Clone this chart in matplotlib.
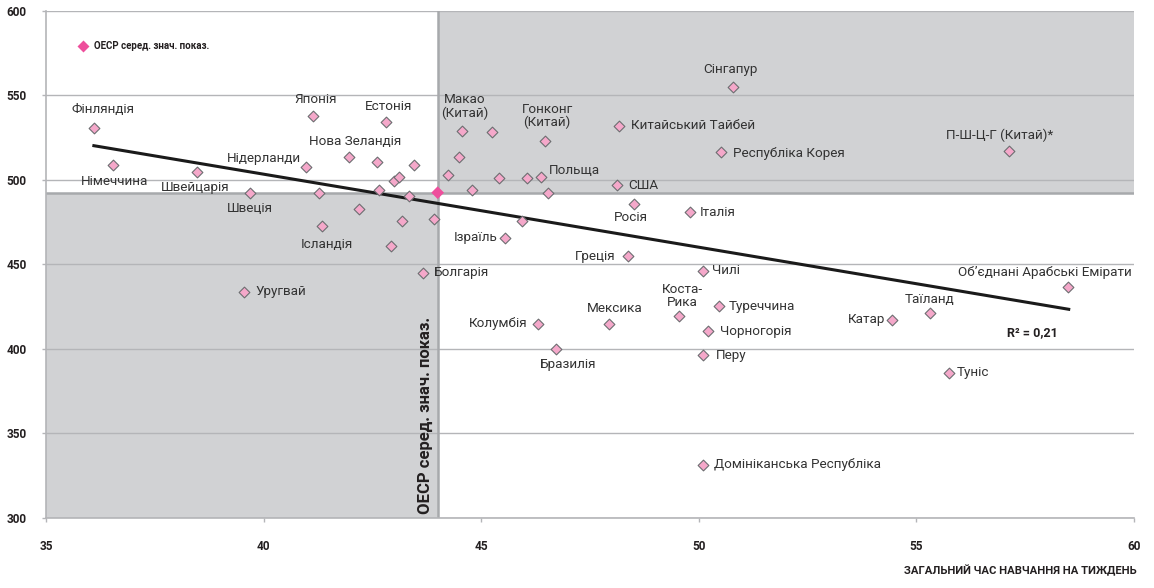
import numpy as np
import matplotlib.pyplot as plt
from matplotlib.lines import Line2D

plt.rcParams['font.family'] = ['Roboto', 'DejaVu Sans']

# дані: години навчання на тиждень / бал
countries = ['Фінляндія', 'Німеччина', 'Швейцарія', 'Швеція', 'Уругвай', 'Японія',
             'Нідерланди', 'Нова Зеландія', '', 'Ісландія', '', 'Естонія', '', '', '',
             '', '', '', '', '', '', 'Болгарія', '', 'Макао\n(Китай)', '', '', '', '',
             '', 'Ізраїль', '', 'Польща', 'Гонконг\n(Китай)', '', 'Колумбія', 'Бразилія',
             'Мексика', 'Китайський Тайбей', 'США', 'Росія', 'Греція', 'Коста-\nРика',
             'Італія', 'Чилі', 'Перу', 'Домініканська Республіка', 'Чорногорія',
             'Туреччина', 'Республіка Корея', 'Сінгапур', 'Катар', 'Таїланд', 'Туніс',
             'П-Ш-Ц-Г (Китай)*', 'Об’єднані Арабські Емірати']
hours = [36.10, 36.54, 38.46, 39.69, 39.56, 41.14, 40.97, 41.96, 41.28, 41.35, 42.20,
         42.82, 42.61, 42.65, 42.92, 43.00, 43.11, 43.19, 43.33, 43.46, 43.92, 43.67,
         44.24, 44.56, 44.49, 44.79, 45.25, 45.41, 45.94, 45.55, 46.06, 46.38, 46.47,
         46.54, 46.31, 46.73, 47.94, 48.17, 48.13, 48.51, 48.37, 49.55, 49.80, 50.10,
         50.10, 50.10, 50.22, 50.46, 50.51, 50.79, 54.43, 55.32, 55.75, 57.13, 58.49]
scores = [530.8, 508.7, 504.6, 492.5, 433.9, 537.9, 507.9, 513.8, 492.5, 473.0, 482.7,
          534.3, 510.5, 494.1, 460.8, 499.4, 501.6, 475.7, 490.3, 508.9, 476.9, 445.0,
          502.8, 528.8, 513.6, 494.1, 528.2, 501.4, 475.7, 465.9, 501.4, 501.6, 523.1,
          492.3, 414.8, 400.0, 414.8, 532.1, 497.0, 486.0, 455.0, 419.7, 480.9, 446.2,
          396.4, 331.4, 410.8, 425.3, 516.4, 554.8, 417.3, 421.3, 386.0, 517.3, 436.5]

oecd_hours = 44.0
oecd_score = 492.5

trend_x = [36.1, 58.5]
trend_y = [520.3, 423.5]
r2_text = 'R² = 0,21'

# зміщення підписів (пікселі) і вирівнювання
label_pos = {
    'Фінляндія': (9, 18, 'center'), 'Німеччина': (2, -16, 'center'),
    'Швейцарія': (-1, -15, 'center'), 'Швеція': (0, -16, 'center'),
    'Уругвай': (11, 0, 'left'), 'Японія': (2, 16, 'center'),
    'Нідерланди': (-5, 8, 'right'), 'Нова Зеландія': (6, 15, 'center'),
    'Ісландія': (5, -19, 'center'), 'Естонія': (2, 16, 'center'),
    'Болгарія': (11, 0, 'left'), 'Макао\n(Китай)': (3, 25, 'center'),
    'Ізраїль': (-8, 0, 'right'), 'Польща': (8, 7, 'left'),
    'Гонконг\n(Китай)': (2, 25, 'center'), 'Колумбія': (-11, 0, 'right'),
    'Бразилія': (12, -16, 'center'), 'Мексика': (6, 15, 'center'),
    'Китайський Тайбей': (12, 0, 'left'), 'США': (11, 0, 'left'),
    'Росія': (-3, -14, 'center'), 'Греція': (-12, 0, 'right'),
    'Коста-\nРика': (3, 20, 'center'), 'Італія': (10, 0, 'left'),
    'Чилі': (9, 0, 'left'), 'Перу': (13, 0, 'left'),
    'Домініканська Республіка': (11, 0, 'left'), 'Чорногорія': (12, -1, 'left'),
    'Туреччина': (10, 0, 'left'), 'Республіка Корея': (12, -1, 'left'),
    'Сінгапур': (-3, 18, 'center'), 'Катар': (-6, 0, 'right'),
    'Таїланд': (-1, 14, 'center'), 'Туніс': (8, 0, 'left'),
    'П-Ш-Ц-Г (Китай)*': (-9, 15, 'center'),
    'Об’єднані Арабські Емірати': (-23, 15, 'center'),
}

shade = '#d1d2d4'
grid_c = '#b4b5b8'
pink = '#f5a8ca'
hot_pink = '#ee4f9c'
txt_c = '#333333'

fig = plt.figure(figsize=(11.54, 5.88), dpi=100)
ax = fig.add_axes([46 / 1154, 1 - 518 / 588, 1088 / 1154, 507 / 588])
ax.set_xlim(35, 60)
ax.set_ylim(300, 600)

# квадранти
ax.fill_between([35, oecd_hours], 300, oecd_score, color=shade, lw=0, zorder=0)
ax.fill_between([oecd_hours, 60], oecd_score, 600, color=shade, lw=0, zorder=0)

ax.set_yticks(np.arange(300, 601, 50))
ax.set_xticks(np.arange(35, 61, 5))
ax.yaxis.grid(True, color=grid_c, lw=1, zorder=1)
ax.set_axisbelow(True)
for s in ['top', 'right']:
    ax.spines[s].set_visible(False)
for s in ['left', 'bottom']:
    ax.spines[s].set_color(grid_c)
    ax.spines[s].set_linewidth(1.2)
ax.tick_params(axis='both', colors=grid_c, length=3, width=1,
               labelcolor='#231f20', labelsize=8.5)
ax.tick_params(axis='x', pad=13)
ax.tick_params(axis='y', pad=11)
for lab in ax.get_xticklabels() + ax.get_yticklabels():
    lab.set_fontweight('bold')

ax.axhline(oecd_score, color='#a7a9ac', lw=1.8, zorder=2)
ax.axvline(oecd_hours, color='#a7a9ac', lw=1.8, zorder=2)

ax.plot(trend_x, trend_y, color='#1a1a1a', lw=2.2, zorder=3)

ax.scatter(hours, scores, marker='D', s=30, facecolor=pink, edgecolor='#6d6e71',
           linewidth=0.8, zorder=4)
ax.scatter([oecd_hours], [oecd_score], marker='D', s=42, facecolor=hot_pink,
           edgecolor='none', zorder=5)

for name, x, y in zip(countries, hours, scores):
    if not name:
        continue
    dx, dy, ha = label_pos[name]
    ax.annotate(name, (x, y), xytext=(dx, dy), textcoords='offset pixels',
                ha=ha, va='center', fontsize=9.7, color=txt_c, linespacing=1.0,
                zorder=6)

ax.annotate(r2_text, (trend_x[1], trend_y[1]), xytext=(-36, -23),
            textcoords='offset pixels', ha='center', va='center',
            fontsize=9, fontweight='bold', color='#231f20')

ax.annotate('ОЕСР серед. знач. показ.', (oecd_hours, 300), xytext=(-5, 4),
            textcoords='offset pixels', rotation=90, ha='right', va='bottom',
            fontsize=12, fontweight='bold', color='#231f20')

handle = Line2D([], [], marker='D', ls='none', markersize=6.5,
                markerfacecolor=hot_pink, markeredgecolor='none')
leg = ax.legend([handle], ['ОЕСР серед. знач. показ.'], loc='upper left',
                bbox_to_anchor=(0.0254, 0.95), frameon=False, handlelength=1,
                handletextpad=0.6, borderpad=0, prop={'size': 7, 'weight': 'bold'})
for t in leg.get_texts():
    t.set_color('#231f20')

fig.text(1137 / 1154, 1 - 571 / 588, 'ЗАГАЛЬНИЙ ЧАС НАВЧАННЯ НА ТИЖДЕНЬ',
         ha='right', va='center', fontsize=8.1, fontweight='bold', color='#231f20')

fig.savefig('out.png', dpi=100)
